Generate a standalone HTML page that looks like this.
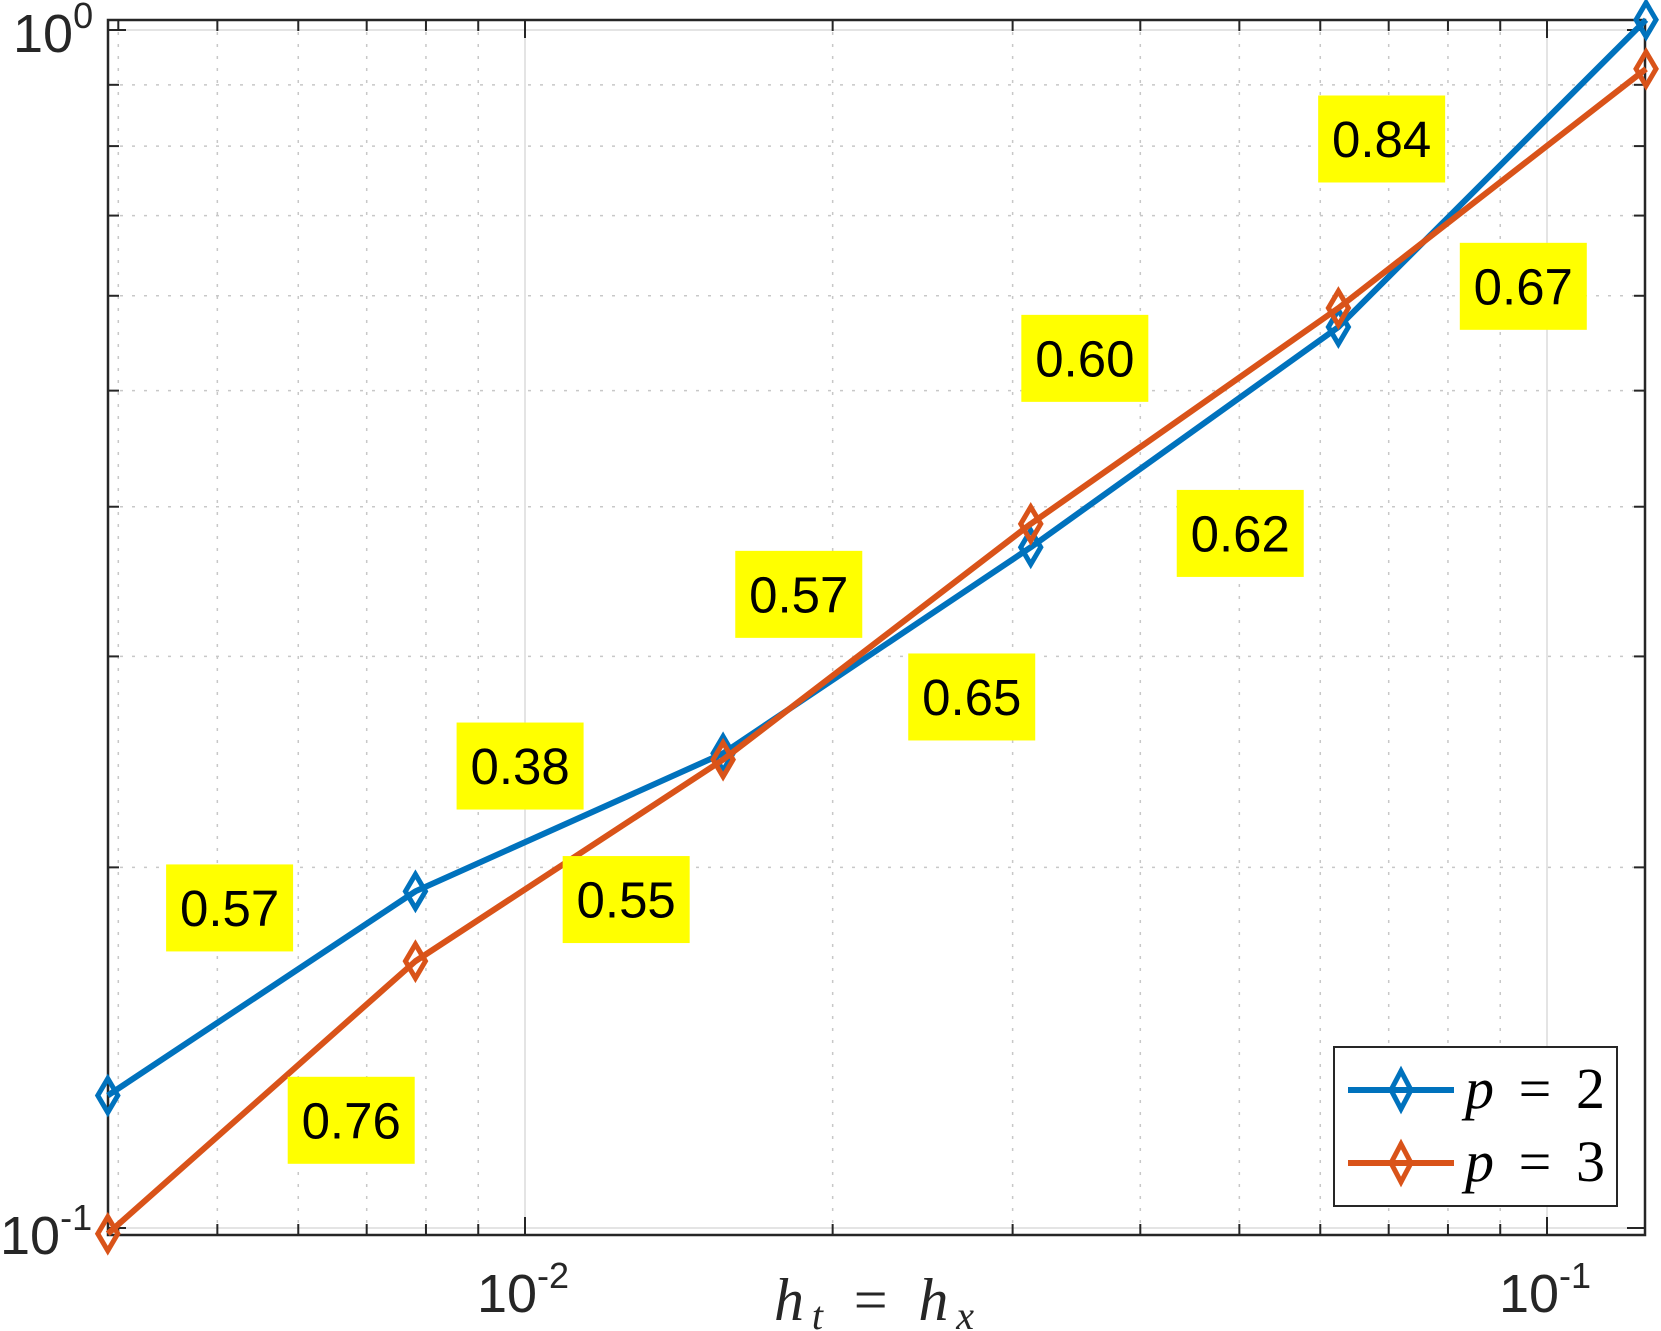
<!DOCTYPE html>
<html><head><meta charset="utf-8"><style>
html,body{margin:0;padding:0;background:#fff}
svg{display:block}
</style></head><body>
<svg id="chart" width="1661" height="1331" viewBox="0 0 1661 1331" xmlns="http://www.w3.org/2000/svg" font-family="Liberation Sans, sans-serif">
<g id="grid"></g>
<g id="axes"></g>
<g id="series"></g>
<g id="labels"></g>
<g id="legend">
  <rect x="1334" y="1047" width="283" height="159" fill="#fff" stroke="#262626" stroke-width="2"/>
  <g>
    <line x1="1348" y1="1090" x2="1454" y2="1090" stroke="#0072BD" stroke-width="6"/>
    <path d="M1401,1071 L1411,1090 L1401,1109 L1391,1090 Z" fill="none" stroke="#0072BD" stroke-width="5"/>
    <text x="1465" y="1108" font-family="Liberation Serif, serif" font-size="58" fill="#000" textLength="140" lengthAdjust="spacing"><tspan font-style="italic">p</tspan> = 2</text>
  </g>
  <g>
    <line x1="1348" y1="1163" x2="1454" y2="1163" stroke="#D95319" stroke-width="6"/>
    <path d="M1401,1144 L1411,1163 L1401,1182 L1391,1163 Z" fill="none" stroke="#D95319" stroke-width="5"/>
    <text x="1465" y="1181" font-family="Liberation Serif, serif" font-size="58" fill="#000" textLength="140" lengthAdjust="spacing"><tspan font-style="italic">p</tspan> = 3</text>
  </g>
</g>
</svg>
<script>
const hValues = [1/256, 1/128, 1/64, 1/32, 1/16, 1/8];
const errP2 = [0.129, 0.191, 0.249, 0.370, 0.565, 1.02];
const errP3 = [0.0989, 0.167, 0.246, 0.387, 0.586, 0.928];
const rateText = ["0.84","0.67","0.60","0.62","0.57","0.65","0.38","0.57","0.55","0.76"];
const rateX = [0.0689,0.0948,0.0353,0.0501,0.01853,0.02736,0.00989,0.00514,0.01256,0.00676];
const rateY = [0.811,0.611,0.532,0.380,0.338,0.2775,0.243,0.185,0.188,0.123];
const xTickLabels = ["-2","-1"];
const yTickLabels = ["0","-1"];

const NS="http://www.w3.org/2000/svg";
const L=108,R=1645,T=20,B=1235;
function xs(v){return 525+(Math.log10(v)+2)*1022;}
function ys(v){return 30-Math.log10(v)*1198;}
function mk(tag,attrs,parent){const e=document.createElementNS(NS,tag);for(const k in attrs)e.setAttribute(k,attrs[k]);parent.appendChild(e);return e;}
const grid=document.getElementById('grid'),axes=document.getElementById('axes'),series=document.getElementById('series'),labels=document.getElementById('labels');

for(let d=-3;d<=-1;d++){for(let m=1;m<=9;m++){const v=m*Math.pow(10,d);const x=xs(v);if(x<L||x>R)continue;
 const g=mk('line',{x1:x,y1:T,x2:x,y2:B,stroke:m===1?'#dcdcdc':'#c8c8c8','stroke-width':1.5,'stroke-dasharray':m===1?'none':'3,9'},grid);
 
 const len=m===1?18:11;
 const t1=mk('line',{x1:x,y1:B,x2:x,y2:B-len,stroke:'#262626','stroke-width':2},axes);
 
 const t2=mk('line',{x1:x,y1:T,x2:x,y2:T+len,stroke:'#262626','stroke-width':2},axes);
 
}}
for(let d=-2;d<=0;d++){for(let m=1;m<=9;m++){const v=m*Math.pow(10,d);const y=ys(v);if(y<T||y>B)continue;
 const g=mk('line',{x1:L,y1:y,x2:R,y2:y,stroke:m===1?'#dcdcdc':'#c8c8c8','stroke-width':1.5,'stroke-dasharray':m===1?'none':'3,9'},grid);
 
 const len=m===1?18:11;
 const t1=mk('line',{x1:L,y1:y,x2:L+len,y2:y,stroke:'#262626','stroke-width':2},axes);
 
 const t2=mk('line',{x1:R,y1:y,x2:R-len,y2:y,stroke:'#262626','stroke-width':2},axes);
 
}}
const box=mk('rect',{x:L,y:T,width:R-L,height:B-T,fill:'none',stroke:'#262626','stroke-width':2.5},axes);


xTickLabels.forEach((e,i)=>{const x=xs(Math.pow(10,-2+i));
 const t=mk('text',{x:x-2,y:1312,'text-anchor':'middle','font-size':54,fill:'#262626'},axes);
 
 t.innerHTML='10<tspan font-size="36" dy="-24">'+e+'</tspan>';});
yTickLabels.forEach((e,i)=>{const y=ys(Math.pow(10,-i));
 const t=mk('text',{x:(e==='0'?13:0),y:y+(e==='0'?22:26),'font-size':54,fill:'#262626'},axes);
 
 t.innerHTML='10<tspan font-size="36" dy="-24">'+e+'</tspan>';});
const xl=mk('text',{x:774,y:1320,'font-size':60,'font-family':'Liberation Serif, serif',fill:'#262626',textLength:200,lengthAdjust:'spacing'},axes);

xl.innerHTML='<tspan font-style="italic">h</tspan><tspan font-style="italic" font-size="40" dy="9">t</tspan><tspan dy="-9"> = </tspan><tspan font-style="italic">h</tspan><tspan font-style="italic" font-size="40" dy="9">x</tspan>';

function drawSeries(vals,color,name){
 const pts=hValues.map((h,i)=>xs(h)+','+ys(vals[i])).join(' ');
 const pl=mk('polyline',{points:pts,fill:'none',stroke:color,'stroke-width':6,'stroke-linejoin':'round'},series);
 
 hValues.forEach((h,i)=>{const x=xs(h),y=ys(vals[i]);
  const p=mk('path',{d:`M${x},${y-17} L${x+10},${y} L${x},${y+17} L${x-10},${y} Z`,fill:'none',stroke:color,'stroke-width':5},series);
  });
}
drawSeries(errP2,'#0072BD','p2');
drawSeries(errP3,'#D95319','p3');

rateText.forEach((s,i)=>{const cx=xs(rateX[i]),cy=ys(rateY[i]);
 const g=mk('g',{},labels);
 
 mk('rect',{x:cx-63.5,y:cy-43.5,width:127,height:87,fill:'#ffff00'},g);
 const t=mk('text',{x:cx,y:cy+18,'text-anchor':'middle','font-size':51,fill:'#000'},g);
 t.textContent=s;});
</script>
</body></html>
